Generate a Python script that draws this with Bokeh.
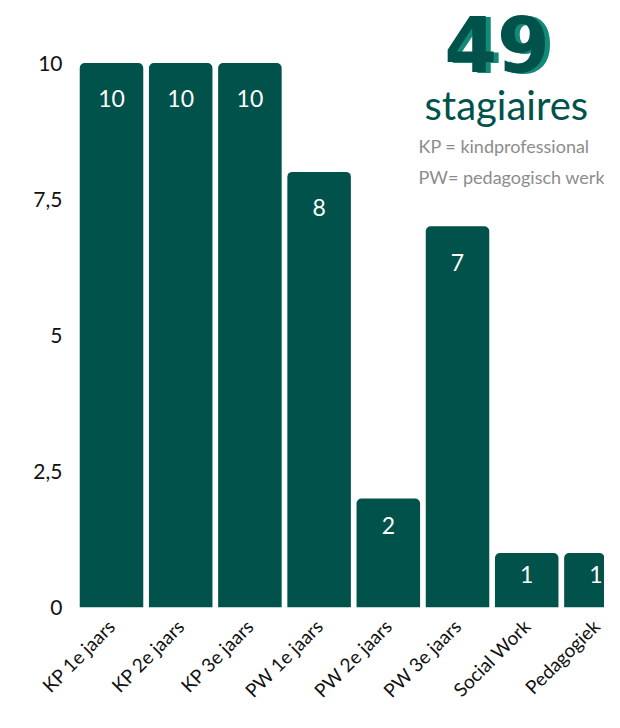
import math
import numpy as np
from bokeh.plotting import figure
from bokeh.models import ColumnDataSource, FixedTicker, Range1d, Label
from bokeh.core.properties import value
from bokeh.embed import file_html
from bokeh.resources import INLINE

categories = ["KP 1e jaars", "KP 2e jaars", "KP 3e jaars", "PW 1e jaars",
              "PW 2e jaars", "PW 3e jaars", "Social Work", "Pedagogiek"]
counts = [10, 10, 10, 8, 2, 7, 1, 1]
y_ticks = [0, 2.5, 5, 7.5, 10]
y_tick_labels = ["0", "2,5", "5", "7,5", "10"]
total_label = "49"
subtitle = "stagiaires"
notes = ["KP = kindprofessional", "PW= pedagogisch werk"]

FONT = "Lato"
TEAL = "#00524a"
TEAL_LIGHT = "#138a78"
GREY = "#8c8c8c"

xs = list(range(len(categories)))
v = np.array(counts, dtype=float)
label_y = np.where(v >= 3, v - 0.66, 0.9 * v - 0.3)
src = ColumnDataSource(dict(x=xs, top=counts, lab=[str(c) for c in counts], ly=label_y))

p = figure(width=604, height=712, output_backend="svg", toolbar_location=None,
           x_range=Range1d(-0.5636, 7.124), y_range=Range1d(0, 11.148),
           min_border_left=72, min_border_right=0, min_border_top=0, min_border_bottom=100)
p.outline_line_color = None
p.grid.grid_line_color = None
p.background_fill_color = "white"
p.border_fill_color = "white"

p.vbar(x="x", top="top", width=0.918, source=src, fill_color=TEAL, line_color=None,
       border_radius=(5, 5, 0, 0))
p.text(x="x", y="ly", text="lab", source=src, text_color="white",
       text_font=value(FONT), text_font_size="23px", text_align="center",
       text_baseline="middle")

# Y axis
p.yaxis.ticker = FixedTicker(ticks=y_ticks)
p.yaxis.major_label_overrides = {t: l for t, l in zip(y_ticks, y_tick_labels)}
p.yaxis.axis_line_color = None
p.yaxis.major_tick_line_color = None
p.yaxis.minor_tick_line_color = None
p.yaxis.major_tick_out = 0
p.yaxis.major_tick_in = 0
p.yaxis.major_label_standoff = 10
p.yaxis.major_label_text_font = FONT
p.yaxis.major_label_text_font_size = "21px"
p.yaxis.major_label_text_color = "#111111"

# X axis
p.xaxis.ticker = FixedTicker(ticks=xs)
p.xaxis.major_label_overrides = {i: c for i, c in zip(xs, categories)}
p.xaxis.major_label_orientation = math.pi / 4
p.xaxis.axis_line_color = None
p.xaxis.major_tick_line_color = None
p.xaxis.minor_tick_line_color = None
p.xaxis.major_tick_out = 0
p.xaxis.major_tick_in = 0
p.xaxis.major_label_standoff = 15
p.xaxis.major_label_text_font = FONT
p.xaxis.major_label_text_font_size = "19px"
p.xaxis.major_label_text_color = "#111111"

# Annotation block
BIG_FONT = "DejaVu Sans"
p.add_layout(Label(x=5.571, y=10.35, text=total_label, text_font=BIG_FONT, text_font_size="76px",
                   text_font_style="bold", text_color=TEAL_LIGHT, text_align="center",
                   text_baseline="alphabetic", x_offset=5, y_offset=-1))
p.add_layout(Label(x=5.571, y=10.35, text=total_label, text_font=BIG_FONT, text_font_size="76px",
                   text_font_style="bold", text_color=TEAL, text_align="center",
                   text_baseline="alphabetic"))
p.add_layout(Label(x=4.523, y=9.226, text=subtitle, text_font=FONT, text_font_size="40px",
                   text_color=TEAL, text_align="left", text_baseline="alphabetic"))
p.add_layout(Label(x=4.436, y=8.47, text=notes[0], text_font=FONT, text_font_size="18px",
                   text_color=GREY, text_align="left", text_baseline="alphabetic"))
p.add_layout(Label(x=4.436, y=7.905, text=notes[1], text_font=FONT, text_font_size="18px",
                   text_color=GREY, text_align="left", text_baseline="alphabetic"))

open("out.html", "w").write(file_html(p, INLINE))
